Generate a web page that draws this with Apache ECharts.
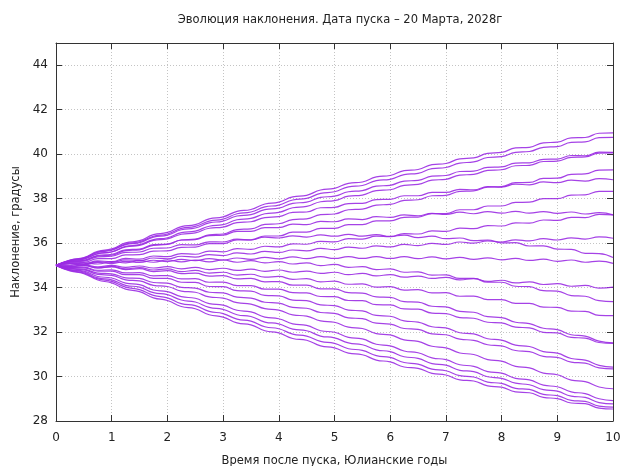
<!DOCTYPE html>
<html>
<head>
<meta charset="utf-8">
<script src="https://cdn.jsdelivr.net/npm/echarts@6/dist/echarts.min.js"></script>
<style>
html,body{margin:0;padding:0;background:#fff}
#chart{width:623px;height:466px}
</style>
</head>
<body>
<div id="chart"></div>
<script>
// Sampling times, Julian years after launch (quarter-year steps)
const years = [0,0.25,0.5,0.75,1,1.25,1.5,1.75,2,2.25,2.5,2.75,3,3.25,3.5,3.75,4,4.25,4.5,4.75,5,5.25,5.5,5.75,6,6.25,6.5,6.75,7,7.25,7.5,7.75,8,8.25,8.5,8.75,9,9.25,9.5,9.75,10];

// Inclination histories, degrees, one per initial node position
const orbit01 = [35,35.24,35.35,35.63,35.74,36.01,36.11,36.38,36.48,36.74,36.83,37.09,37.18,37.43,37.51,37.76,37.84,38.08,38.15,38.39,38.46,38.69,38.75,38.98,39.04,39.26,39.31,39.53,39.58,39.79,39.83,40.04,40.08,40.28,40.31,40.51,40.54,40.73,40.75,40.94,40.96];
const orbit02 = [35,35.23,35.33,35.60,35.70,35.96,36.06,36.31,36.41,36.66,36.75,36.99,37.08,37.32,37.40,37.63,37.71,37.94,38.01,38.24,38.31,38.53,38.59,38.81,38.87,39.08,39.14,39.35,39.40,39.60,39.65,39.85,39.89,40.08,40.12,40.31,40.34,40.53,40.55,40.74,40.76];
const orbit03 = [35,35.22,35.32,35.58,35.68,35.93,36.02,36.27,36.36,36.60,36.68,36.91,36.99,37.22,37.28,37.51,37.57,37.79,37.84,38.06,38.11,38.31,38.36,38.56,38.60,38.79,38.82,39.01,39.04,39.22,39.24,39.41,39.43,39.60,39.61,39.77,39.78,39.94,39.93,40.09,40.08];
const orbit04 = [35,35.20,35.29,35.53,35.61,35.85,35.93,36.16,36.24,36.47,36.54,36.76,36.83,37.05,37.11,37.32,37.38,37.59,37.65,37.86,37.91,38.11,38.16,38.36,38.40,38.60,38.64,38.83,38.87,39.06,39.09,39.27,39.30,39.48,39.50,39.67,39.69,39.86,39.88,40.05,40.06];
const orbit05 = [35,35.20,35.28,35.52,35.60,35.83,35.90,36.12,36.19,36.40,36.46,36.67,36.72,36.92,36.96,37.15,37.19,37.38,37.40,37.59,37.61,37.78,37.79,37.96,37.97,38.13,38.13,38.28,38.28,38.42,38.40,38.54,38.52,38.65,38.62,38.75,38.72,38.83,38.79,38.90,38.85];
const orbit06 = [35,35.17,35.21,35.42,35.46,35.66,35.70,35.90,35.94,36.14,36.18,36.37,36.41,36.61,36.64,36.84,36.87,37.06,37.09,37.28,37.31,37.50,37.53,37.71,37.74,37.92,37.95,38.13,38.15,38.33,38.35,38.52,38.54,38.72,38.73,38.91,38.92,39.09,39.11,39.28,39.29];
const orbit07 = [35,35.18,35.23,35.45,35.50,35.70,35.73,35.93,35.96,36.14,36.16,36.34,36.36,36.53,36.53,36.70,36.70,36.85,36.83,36.98,36.96,37.09,37.06,37.19,37.16,37.27,37.23,37.34,37.29,37.39,37.32,37.42,37.35,37.43,37.35,37.42,37.34,37.40,37.31,37.37,37.27];
const orbit08 = [35,35.13,35.13,35.30,35.30,35.47,35.48,35.64,35.65,35.81,35.82,35.98,35.98,36.15,36.15,36.32,36.32,36.49,36.49,36.66,36.66,36.83,36.83,37.00,37.00,37.16,37.17,37.33,37.33,37.50,37.50,37.67,37.67,37.83,37.84,38.00,38.00,38.16,38.17,38.33,38.33];
const orbit09 = [35,35.15,35.19,35.38,35.41,35.58,35.60,35.77,35.78,35.93,35.92,36.06,36.05,36.18,36.14,36.27,36.23,36.33,36.27,36.37,36.31,36.39,36.31,36.38,36.30,36.36,36.25,36.31,36.20,36.23,36.11,36.14,36.01,36.02,35.87,35.88,35.73,35.72,35.54,35.53,35.35];
const orbit10 = [35,35.09,35.07,35.20,35.17,35.31,35.28,35.42,35.39,35.53,35.50,35.64,35.61,35.75,35.72,35.86,35.83,35.97,35.95,36.08,36.06,36.20,36.18,36.31,36.29,36.43,36.41,36.55,36.53,36.67,36.65,36.79,36.77,36.91,36.90,37.04,37.02,37.16,37.15,37.29,37.27];
const orbit11 = [35,35.08,35.05,35.17,35.13,35.25,35.21,35.33,35.29,35.41,35.37,35.48,35.44,35.56,35.51,35.63,35.58,35.69,35.65,35.76,35.71,35.82,35.77,35.88,35.83,35.94,35.89,35.99,35.94,36.05,36.00,36.10,36.05,36.15,36.10,36.20,36.14,36.24,36.18,36.28,36.22];
const orbit12 = [35,35.07,35.02,35.13,35.08,35.18,35.13,35.23,35.17,35.27,35.21,35.30,35.24,35.33,35.27,35.36,35.29,35.38,35.30,35.39,35.31,35.39,35.31,35.39,35.31,35.39,35.30,35.38,35.29,35.36,35.27,35.34,35.25,35.31,35.22,35.28,35.18,35.24,35.14,35.19,35.09];
const orbit13 = [35,34.99,35.11,35.06,35.17,35.11,35.21,35.14,35.24,35.16,35.24,35.16,35.24,35.14,35.21,35.11,35.17,35.06,35.11,34.99,35.04,34.91,34.94,34.81,34.84,34.69,34.71,34.56,34.57,34.41,34.41,34.24,34.24,34.06,34.04,33.86,33.84,33.64,33.61,33.41,33.37];
const orbit14 = [35,34.95,35.02,34.93,35.00,34.91,34.97,34.88,34.94,34.84,34.91,34.81,34.87,34.77,34.83,34.73,34.79,34.69,34.74,34.64,34.69,34.58,34.64,34.53,34.58,34.47,34.52,34.41,34.46,34.35,34.40,34.28,34.33,34.21,34.26,34.14,34.18,34.06,34.10,33.98,34.02];
const orbit15 = [35,34.94,35.00,34.89,34.95,34.84,34.90,34.79,34.84,34.72,34.77,34.65,34.69,34.56,34.60,34.47,34.50,34.37,34.40,34.26,34.29,34.15,34.17,34.02,34.04,33.89,33.91,33.76,33.77,33.61,33.62,33.46,33.46,33.29,33.29,33.12,33.11,32.94,32.93,32.75,32.74];
const orbit16 = [35,34.93,34.99,34.88,34.93,34.81,34.85,34.72,34.76,34.63,34.65,34.52,34.54,34.39,34.41,34.26,34.27,34.11,34.11,33.94,33.94,33.77,33.75,33.58,33.56,33.37,33.35,33.16,33.13,32.93,32.89,32.69,32.65,32.44,32.38,32.17,32.11,31.88,31.82,31.59,31.52];
const orbit17 = [35,34.90,34.92,34.78,34.80,34.66,34.67,34.53,34.54,34.39,34.40,34.24,34.25,34.09,34.09,33.93,33.93,33.77,33.76,33.60,33.59,33.42,33.41,33.23,33.22,33.04,33.03,32.85,32.83,32.65,32.62,32.44,32.41,32.22,32.19,31.99,31.96,31.76,31.73,31.53,31.49];
const orbit18 = [35,34.89,34.89,34.74,34.74,34.58,34.58,34.41,34.41,34.24,34.23,34.05,34.04,33.86,33.84,33.65,33.63,33.44,33.41,33.22,33.19,32.99,32.95,32.75,32.71,32.50,32.45,32.24,32.19,31.97,31.92,31.70,31.64,31.41,31.35,31.12,31.05,30.81,30.74,30.50,30.42];
const orbit19 = [35,34.86,34.83,34.65,34.62,34.44,34.41,34.23,34.20,34.01,33.98,33.79,33.76,33.57,33.53,33.34,33.30,33.11,33.07,32.88,32.84,32.64,32.60,32.40,32.36,32.16,32.12,31.92,31.88,31.68,31.63,31.43,31.38,31.17,31.12,30.91,30.86,30.65,30.60,30.39,30.34];
const orbit20 = [35,34.84,34.80,34.59,34.55,34.35,34.30,34.10,34.05,33.84,33.79,33.58,33.53,33.32,33.26,33.05,32.99,32.77,32.72,32.50,32.44,32.22,32.16,31.93,31.87,31.65,31.58,31.36,31.29,31.06,30.99,30.76,30.69,30.46,30.39,30.15,30.08,29.84,29.77,29.53,29.45];
const orbit21 = [35,34.81,34.74,34.50,34.43,34.20,34.13,33.89,33.82,33.59,33.52,33.28,33.21,32.98,32.91,32.67,32.60,32.37,32.30,32.06,31.99,31.76,31.69,31.45,31.38,31.15,31.07,30.84,30.76,30.53,30.46,30.22,30.15,29.92,29.85,29.61,29.54,29.31,29.23,29.00,28.92];
const orbit22 = [35,34.79,34.70,34.44,34.35,34.10,34.02,33.77,33.68,33.44,33.35,33.11,33.02,32.78,32.70,32.45,32.37,32.13,32.06,31.82,31.74,31.51,31.43,31.20,31.12,30.89,30.82,30.58,30.51,30.28,30.22,29.99,29.92,29.70,29.63,29.41,29.34,29.12,29.06,28.83,28.77];
const orbit23 = [35,34.77,34.66,34.39,34.28,34.02,33.91,33.65,33.54,33.28,33.19,32.93,32.83,32.58,32.49,32.24,32.15,31.91,31.82,31.58,31.49,31.25,31.18,30.94,30.86,30.63,30.56,30.33,30.26,30.04,29.98,29.75,29.69,29.47,29.42,29.20,29.14,28.93,28.88,28.67,28.62];
const orbit24 = [35,34.75,34.63,34.34,34.21,33.93,33.82,33.54,33.42,33.15,33.05,32.78,32.67,32.41,32.32,32.06,31.96,31.71,31.63,31.38,31.29,31.05,30.98,30.74,30.66,30.43,30.37,30.14,30.07,29.85,29.80,29.58,29.52,29.31,29.27,29.06,29.01,28.81,28.78,28.58,28.54];

const orbits = [orbit01,orbit02,orbit03,orbit04,orbit05,orbit06,orbit07,orbit08,orbit09,orbit10,orbit11,orbit12,
                orbit13,orbit14,orbit15,orbit16,orbit17,orbit18,orbit19,orbit20,orbit21,orbit22,orbit23,orbit24];

// Axis ranges and ticks
const xMin = 0, xMax = 10, xStep = 1;
const yMin = 28, yMax = 45, yStep = 2;

const titleText = 'Эволюция наклонения. Дата пуска – 20 Марта, 2028г';
const xName = 'Время после пуска, Юлианские годы';
const yName = 'Наклонение, градусы';

const FONT = 'DejaVu Sans';
const INK = '#222';
const FRAME = '#333';
const LINE = '#9b2ee3';
const GRID = '#c4c4c4';

const chart = echarts.init(document.getElementById('chart'), null, {renderer: 'canvas'});

// Mirrored top/right axes close the frame and carry inward ticks only
const frameAxis = {
  axisLine: {show: true, onZero: false, lineStyle: {color: FRAME, width: 1}},
  axisTick: {show: true, inside: true, length: 6, lineStyle: {color: FRAME}},
  axisLabel: {show: false},
  splitLine: {show: false}
};

chart.setOption({
  animation: false,
  backgroundColor: '#fff',
  title: {
    text: titleText,
    left: 335,
    textAlign: 'center',
    top: 9,
    textStyle: {fontFamily: FONT, fontSize: 11.5, fontWeight: 'normal', color: INK}
  },
  grid: {left: 56, top: 43, width: 557, height: 378, containLabel: false, outerBoundsMode: 'none'},
  xAxis: [
    {
      type: 'value', min: xMin, max: xMax, interval: xStep, position: 'bottom',
      name: xName, nameLocation: 'middle', nameGap: 34,
      nameTextStyle: {fontFamily: FONT, fontSize: 11.5, color: INK},
      axisLine: {show: true, onZero: false, lineStyle: {color: FRAME, width: 1}},
      axisTick: {show: true, inside: true, length: 6, lineStyle: {color: FRAME}},
      axisLabel: {fontFamily: FONT, fontSize: 12, color: INK, margin: 11},
      splitLine: {show: true, lineStyle: {color: GRID, type: [1, 2], width: 1}}
    },
    Object.assign({type: 'value', min: xMin, max: xMax, interval: xStep, position: 'top'}, frameAxis)
  ],
  yAxis: [
    {
      type: 'value', min: yMin, max: yMax, interval: yStep, position: 'left',
      name: yName, nameLocation: 'middle', nameGap: 34, nameRotate: 90,
      nameTextStyle: {fontFamily: FONT, fontSize: 11.5, color: INK},
      axisLine: {show: true, onZero: false, lineStyle: {color: FRAME, width: 1}},
      axisTick: {show: true, inside: true, length: 6, lineStyle: {color: FRAME}},
      axisLabel: {
        fontFamily: FONT, fontSize: 12, color: INK, margin: 8,
        formatter: v => (v === yMax ? '' : String(v))
      },
      splitLine: {show: true, lineStyle: {color: GRID, type: [1, 2], width: 1}}
    },
    Object.assign({type: 'value', min: yMin, max: yMax, interval: yStep, position: 'right'}, frameAxis)
  ],
  series: orbits.map((vals, i) => ({
    name: 'orbit' + (i + 1),
    type: 'line',
    xAxisIndex: 0,
    yAxisIndex: 0,
    data: years.map((t, k) => [t, vals[k]]),
    showSymbol: false,
    smooth: 0.5,
    lineStyle: {color: LINE, width: 1.2, opacity: 0.9},
    silent: true
  }))
});
</script>
</body>
</html>
